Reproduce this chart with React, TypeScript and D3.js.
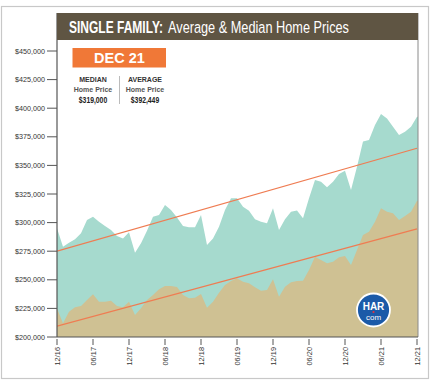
import React from "react";
import * as d3 from "d3";

const xTickLabels = ["12/16", "06/17", "12/17", "06/18", "12/18", "06/19", "12/19", "06/20", "12/20", "06/21", "12/21"];
const yTicks = [200000, 225000, 250000, 275000, 300000, 325000, 350000, 375000, 400000, 425000, 450000];

// Monthly, Dec 2016 .. Dec 2021
const averagePrice = [
  295000, 278900, 282400, 285400, 290600, 302300, 305100, 300800, 297000, 293500,
  288300, 286200, 291500, 273700, 281900, 292900, 305100, 306600, 315400, 311000,
  304500, 297000, 295900, 295900, 306600, 280400, 286200, 296400, 311000, 321200,
  321200, 313900, 310400, 302900, 300800, 299400, 312500, 293500, 302900, 309500,
  310500, 303700, 321200, 337200, 335700, 330800, 335700, 342500, 345400, 328500,
  348900, 370800, 372200, 385300, 394900, 391100, 383800, 376500, 379400, 383800,
  392449,
];
const medianPrice = [
  225000, 212000, 222100, 226000, 227100, 232300, 237300, 230900, 230900, 231700,
  227100, 226000, 230900, 219200, 225100, 232300, 236700, 241700, 244600, 244600,
  243800, 236700, 233800, 234300, 237600, 225600, 230900, 238700, 245400, 248900,
  251300, 248300, 246900, 243400, 240500, 241000, 250500, 235200, 244000, 247800,
  249000, 249200, 258600, 270200, 267300, 264400, 265800, 269700, 270800, 262900,
  276000, 289100, 292000, 300800, 312500, 309500, 308100, 302300, 305800, 309500,
  319000,
];
const upperTrend = [275000, 365000];
const lowerTrend = [209500, 294500];

const W = 437, H = 385;
const left = 57, right = 418, top = 13, bottom = 337;

export default function App() {
  const x = d3.scaleLinear().domain([0, 60]).range([left, 417]);
  const y = d3.scaleLinear().domain([200000, 450000]).range([bottom, 51]);

  const area = d3.area<number>()
    .x((_, i) => x(i))
    .y0(y(200000))
    .y1((d) => y(d))
    .curve(d3.curveLinear);

  const font = "Arial, 'Liberation Sans', sans-serif";

  return (
    <svg width={W} height={H} style={{ position: "absolute", left: 0, top: 0, background: "#fff" }}>
      <rect x={1.5} y={6.5} width={427} height={372} fill="#fff" stroke="#c8c8c8" strokeWidth={1.2} />
      <clipPath id="plotClip">
        <rect x={left} y={top} width={right - left} height={bottom - top} />
      </clipPath>
      <g clipPath="url(#plotClip)">
        <path d={area(averagePrice.concat([averagePrice[60]])) || ""} fill="#a6dace" />
        <path d={area(medianPrice.concat([medianPrice[60]])) || ""} fill="#cfc193" />
        <line x1={x(0)} x2={x(60)} y1={y(upperTrend[0])} y2={y(upperTrend[1])} stroke="#ef7c52" strokeWidth={1.2} />
        <line x1={x(0)} x2={x(60)} y1={y(lowerTrend[0])} y2={y(lowerTrend[1])} stroke="#ef7c52" strokeWidth={1.2} />
      </g>
      <line x1={right} x2={right} y1={top} y2={bottom} stroke="#8a8a8a" strokeWidth={1} />
      <line x1={left} x2={left} y1={top} y2={bottom} stroke="#555" strokeWidth={1.2} />
      <line x1={left} x2={right} y1={bottom} y2={bottom} stroke="#555" strokeWidth={1.2} />
      <rect x={left} y={top} width={right - left} height={27} fill="#5f5543" />
      <g transform="translate(69,33) scale(0.707,1)">
        <text x={0} y={0} fill="#fff" fontFamily={font} fontWeight="bold" fontSize={16.5} textLength={133} lengthAdjust="spacingAndGlyphs">SINGLE FAMILY:</text>
      </g>
      <g transform="translate(168,33) scale(0.771,1)">
        <text x={0} y={0} fill="#fff" fontFamily={font} fontSize={16.5} textLength={234.7} lengthAdjust="spacingAndGlyphs">Average &amp; Median Home Prices</text>
      </g>
      {yTicks.map((t) => (
        <g key={t}>
          <line x1={47} x2={left} y1={y(t)} y2={y(t)} stroke="#555" strokeWidth={1} />
          <text x={45} y={y(t) + 2.5} textAnchor="end" fontFamily={font} fontSize={7.2} fill="#333">
            {d3.format("$,")(t)}
          </text>
        </g>
      ))}
      {xTickLabels.map((lab, i) => (
        <g key={lab} transform={`translate(${x(i * 6)},${bottom})`}>
          <line x1={0} x2={0} y1={2} y2={8} stroke="#555" strokeWidth={1} />
          <text transform="rotate(-90)" x={-10} y={2.5} textAnchor="end" fontFamily={font} fontSize={7.4} fill="#333">{lab}</text>
        </g>
      ))}
      <rect x={72.5} y={48} width={93.5} height={19.5} fill="#f07837" />
      <text x={119.5} y={63} textAnchor="middle" fontFamily={font} fontWeight="bold" fontSize={14.5} fill="#fff">DEC 21</text>
      <line x1={119.5} x2={119.5} y1={76} y2={104} stroke="#aaa" strokeWidth={0.8} />
      <text x={93} y={82} textAnchor="middle" fontFamily={font} fontWeight="bold" fontSize={7} fill="#333">MEDIAN</text>
      <text x={93} y={91.5} textAnchor="middle" fontFamily={font} fontWeight="bold" fontSize={7} fill="#555">Home Price</text>
      <g transform="translate(93,103) scale(0.8,1)">
        <text x={0} y={0} textAnchor="middle" fontFamily={font} fontWeight="bold" fontSize={8.5} fill="#222">$319,000</text>
      </g>
      <text x={145} y={82} textAnchor="middle" fontFamily={font} fontWeight="bold" fontSize={7} fill="#333">AVERAGE</text>
      <text x={145} y={91.5} textAnchor="middle" fontFamily={font} fontWeight="bold" fontSize={7} fill="#555">Home Price</text>
      <g transform="translate(145,103) scale(0.8,1)">
        <text x={0} y={0} textAnchor="middle" fontFamily={font} fontWeight="bold" fontSize={8.5} fill="#222">$392,449</text>
      </g>
      <circle cx={373.5} cy={310} r={16.5} fill="#1b5aa8" stroke="#fff" strokeWidth={1.8} />
      <text x={373.5} y={310} textAnchor="middle" fontFamily={font} fontWeight="bold" fontSize={10} fill="#fff">HAR</text>
      <circle cx={373.5} cy={312} r={1.1} fill="#e8323c" />
      <text x={373.5} y={319.5} textAnchor="middle" fontFamily={font} fontSize={8} fill="#fff">com</text>
    </svg>
  );
}
